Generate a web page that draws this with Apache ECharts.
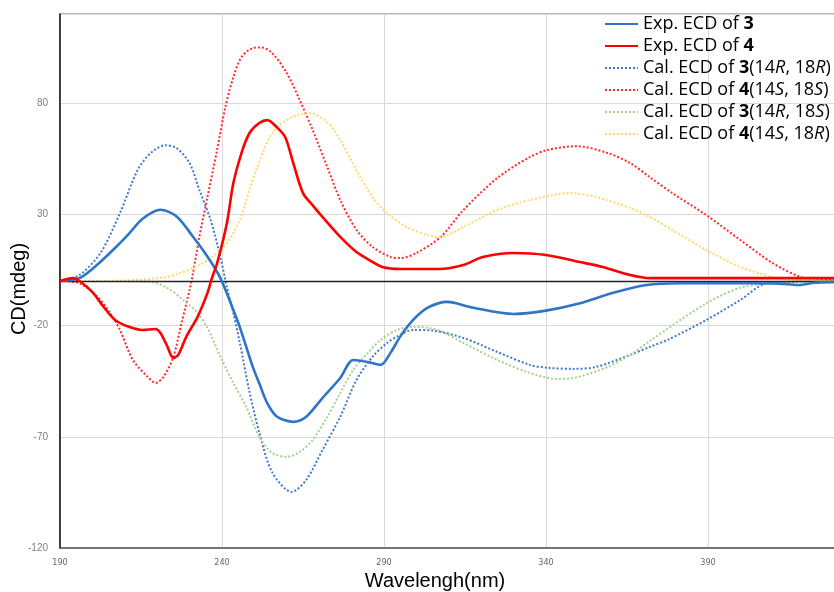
<!DOCTYPE html>
<html>
<head>
<meta charset="utf-8">
<script src="https://cdn.jsdelivr.net/npm/echarts@6/dist/echarts.min.js"></script>
<style>
  html, body { margin: 0; padding: 0; background: #fff; }
  #chart { width: 834px; height: 592px; }
</style>
</head>
<body>
<div id="chart"></div>
<script>
// 系列名称
const names = [
  'Exp. ECD of 3',
  'Exp. ECD of 4',
  'Cal. ECD of 3(14R, 18R)',
  'Cal. ECD of 4(14S, 18S)',
  'Cal. ECD of 3(14R, 18S)',
  'Cal. ECD of 4(14S, 18R)'
];

// Exp. ECD of 3
const exp3Nm = [190, 196, 202, 208.5, 211.5, 215.5, 221, 226, 231, 235.5, 239.5, 243.5, 245.5, 249.5, 251.5, 254, 257, 262, 266, 271, 276.5, 280.5, 285, 289, 292, 295, 299, 303.5, 309.5, 317.5, 330, 340, 350.5, 360.5, 371, 381, 403, 412, 418, 423, 429, 440];
const exp3CD = [0, 1.3, 8, 17, 21.6, 28, 32, 29, 20, 11, 1.3, -13, -20.7, -38.6, -46, -55, -61, -63.3, -61, -52.6, -43.6, -35.5, -36.4, -37.7, -32.3, -25, -17.5, -12, -9.4, -12, -14.8, -13.3, -10, -5.4, -1.8, -1, -1, -1.2, -1.8, -0.8, -0.5, -0.3];

// Exp. ECD of 4
const exp4Nm = [190, 194, 196, 200, 203.5, 207, 211.5, 215.5, 219.5, 221, 223, 225, 226.5, 229, 232.5, 235.5, 237, 238.5, 241.5, 243.5, 246, 248.5, 251.5, 254, 257, 259.5, 262, 265, 268, 271, 276.5, 281.5, 285.5, 289.5, 295, 307, 314.5, 320.5, 330, 340, 350.5, 357.5, 366, 372, 380, 440];
const exp4CD = [0, 1.3, 0, -5, -11.7, -17.5, -20.7, -22, -21.6, -23.4, -29, -34.6, -33.2, -25, -16, -5.4, 1.8, 8, 26, 44, 57.5, 66.5, 71, 72.3, 69, 64.7, 53, 39.5, 34, 28.8, 19.8, 13, 9.4, 6.3, 5.4, 5.4, 7.2, 10.8, 12.6, 11.7, 8.5, 6.3, 2.7, 1.3, 1.3, 1.3];

// Cal. ECD of 3 (14R, 18R)
const cal3RRNm = [190, 196, 202.5, 208.5, 214, 218, 222.5, 226, 230, 233, 236.5, 239.5, 241.5, 243.5, 245.5, 248.5, 251.5, 255.5, 261.5, 266, 271, 276.5, 281.5, 286.5, 291, 294, 299, 305, 314.5, 325, 335, 340.5, 348.5, 355.5, 366, 372, 377.5, 389.5, 400, 408, 415, 429, 440];
const cal3RRCD = [0, 2.7, 12.6, 30.5, 50, 57.5, 61, 59.7, 53, 41, 27.4, 10.8, -2.7, -14.4, -27.8, -50, -68, -86, -94.8, -89.4, -76, -61, -44.5, -34, -27.8, -25, -22, -22.3, -25.6, -31.9, -37.7, -39, -39.5, -38.6, -33.2, -29.6, -26.5, -17.5, -8.5, -1, -0.4, 0, 0];

// Cal. ECD of 4 (14S, 18S)
const cal4SSNm = [190, 196, 201.5, 205.5, 208.5, 212.5, 217, 219.5, 222, 225, 227.5, 230, 231, 233, 235.5, 238.5, 241, 243.5, 246, 249.5, 252, 255.5, 260, 264, 268, 272.5, 276.5, 281.5, 286.5, 292, 295, 300, 307.5, 314.5, 325, 335, 340.5, 349.5, 359, 366, 372, 379, 389.5, 400, 410, 418.5, 422.5, 429, 440];
const cal4SSCD = [0, -1, -7, -14.4, -22, -35.5, -43, -45.8, -43, -34, -19, -4, 3, 19.8, 37.7, 59, 78, 91.6, 100.6, 104.7, 105, 102.4, 93.4, 81.3, 67.8, 51.2, 36.4, 23, 15.3, 10.8, 10.3, 12.6, 19.8, 31.9, 46.3, 55.7, 58.9, 60.6, 57.5, 53, 46.7, 39.5, 29.6, 18.4, 8, 1.8, 1, 0.5, 0];

// Cal. ECD of 3 (14R, 18S)
const cal3RSNm = [190, 203, 218, 223, 228, 232.5, 235.5, 239.5, 243.5, 247.5, 251.5, 255.5, 260, 264, 268, 272.5, 276.5, 280.5, 285, 289, 294, 299, 303.5, 307.5, 314.5, 325, 335, 343.5, 348.5, 359, 366, 372, 389.5, 400, 408, 415, 429, 440];
const cal3RSCD = [0, 0, -0.4, -3, -8.5, -14.4, -21, -34, -45.8, -56.6, -70, -77.3, -79, -76.8, -71.4, -61, -50.3, -40, -32.3, -26.5, -22, -20.7, -21, -22.5, -27.8, -35.5, -41.3, -44, -43.6, -38.6, -33.2, -27, -10, -3, -1, -0.3, 0, 0];

// Cal. ECD of 4 (14S, 18R)
const cal4SRNm = [190, 202, 221, 227, 233, 237, 241.5, 245.5, 248.5, 251.5, 255.5, 261, 267, 272.5, 276.5, 281.5, 286.5, 291, 297, 303.5, 307.5, 314.5, 325, 335, 347.5, 355.5, 366, 372, 379, 389.5, 400, 410, 417.5, 429, 440];
const cal4SRCD = [0, 0, 1.3, 3.6, 7.2, 10.8, 17, 27.4, 41, 53.5, 66.5, 73.2, 75.5, 71.4, 63.3, 49.9, 37.7, 30.5, 24.3, 20.7, 19.8, 24.3, 31.9, 36.4, 39.5, 37.7, 32.8, 28.8, 22.9, 13.9, 6.3, 1.8, 0.4, 0, 0];

const zip = (xs, ys) => xs.map((x, i) => [x, ys[i]]);

// 图例文字：编号加粗，构型斜体
const richName = (name) => {
  const m = name.match(/^(.*of )(\d)(?:\(14([RS]), 18([RS])\))?$/);
  let s = `{n|${m[1]}}{b|${m[2]}}`;
  if (m[3]) s += `{n|(14}{i|${m[3]}}{n|, 18}{i|${m[4]}}{n|)}`;
  return s;
};

const makeSeries = (name, nm, cd, color, width, type, z) => ({
  name,
  type: 'line',
  data: zip(nm, cd),
  symbol: 'none',
  smooth: 0.3,
  color,
  z,
  lineStyle: { color, width, type }
});

const series = [
  makeSeries(names[0], exp3Nm, exp3CD, '#2e75c6', 2.6, 'solid', 5),
  makeSeries(names[1], exp4Nm, exp4CD, '#ff0000', 2.6, 'solid', 5),
  makeSeries(names[2], cal3RRNm, cal3RRCD, '#3f7ad0', 2, 'dotted', 3),
  makeSeries(names[3], cal4SSNm, cal4SSCD, '#ff2a2a', 2, 'dotted', 3),
  makeSeries(names[4], cal3RSNm, cal3RSCD, '#a6d18c', 2, 'dotted', 3),
  makeSeries(names[5], cal4SRNm, cal4SRCD, '#ffd966', 2, 'dotted', 3)
];

// 零线
series[0].markLine = {
  silent: true,
  symbol: 'none',
  label: { show: false },
  lineStyle: { color: '#222', type: 'solid', width: 1.3 },
  data: [{ yAxis: 0 }]
};

const chart = echarts.init(document.getElementById('chart'), null, { renderer: 'canvas' });

const richBase = { fontFamily: 'Open Sans', fontSize: 18, color: '#000' };

chart.setOption({
  animation: false,
  backgroundColor: '#fff',
  grid: {
    left: 60,
    right: -36,
    top: 14,
    bottom: 44,
    outerBoundsMode: 'none',
    containLabel: false,
    show: true,
    borderColor: '#a0a0a0',
    borderWidth: 1.5
  },
  legend: {
    data: names,
    orient: 'vertical',
    left: 604,
    top: 15,
    padding: 0,
    itemWidth: 33,
    itemHeight: 14,
    itemGap: 4,
    itemStyle: { opacity: 0 },
    textStyle: {
      rich: {
        n: { ...richBase },
        b: { ...richBase, fontWeight: 'bold' },
        i: { ...richBase, fontStyle: 'italic' }
      }
    },
    formatter: richName
  },
  xAxis: {
    type: 'value',
    min: 190,
    max: 440,
    interval: 50,
    name: 'Wavelengh(nm)',
    nameLocation: 'middle',
    nameGap: 23,
    nameMoveOverlap: false,
    nameTextStyle: {
      fontFamily: 'Liberation Sans',
      fontSize: 20,
      color: '#000',
      padding: [0, 60, 0, 0]
    },
    axisLine: { show: true, onZero: false, lineStyle: { color: '#595959', width: 1.5 } },
    axisTick: { show: false },
    axisLabel: {
      margin: 10,
      fontFamily: 'DejaVu Sans Condensed',
      fontSize: 9,
      color: '#666'
    },
    splitLine: { show: true, lineStyle: { color: '#d9d9d9', width: 1 } }
  },
  yAxis: {
    type: 'value',
    min: -120,
    max: 120,
    interval: 50,
    name: 'CD(mdeg)',
    nameLocation: 'middle',
    nameGap: 31,
    nameMoveOverlap: false,
    nameTextStyle: {
      fontFamily: 'Liberation Sans',
      fontSize: 20,
      color: '#000',
      padding: [0, 16, 0, 0]
    },
    axisLine: { show: true, lineStyle: { color: '#111', width: 1.5 } },
    axisTick: { show: false },
    axisLabel: {
      margin: 12,
      fontFamily: 'Liberation Sans',
      fontSize: 10,
      color: '#808080',
      showMaxLabel: false
    },
    splitLine: { show: true, lineStyle: { color: '#d9d9d9', width: 1 } }
  },
  series
});
</script>
</body>
</html>
